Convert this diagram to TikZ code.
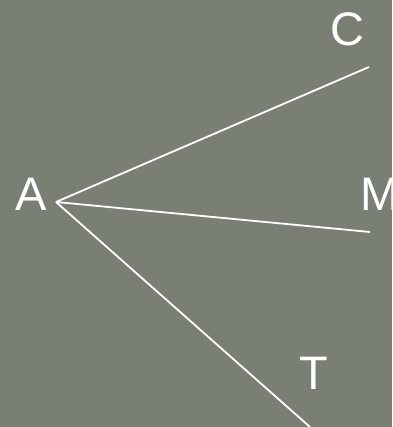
\documentclass[tikz,border=0pt]{standalone}
\usepackage{fontspec}
\setmainfont{Liberation Sans}
\usetikzlibrary{positioning}
\definecolor{cBg}{HTML}{7A7F74}
\definecolor{cInk}{HTML}{FFFFFF}

\begin{document}
\begin{tikzpicture}[x=1pt,y=1pt,
  letter/.style={text=cInk, inner sep=0pt, font=\fontsize{47}{50}\selectfont},
  ray/.style={draw=cInk, line width=1.8pt},
]

% background
\fill[cBg] (0,0) rectangle (392,427);
\useasboundingbox (0,0) rectangle (392,427);

% vertex and ray ends
\coordinate (a) at (56,225);
\coordinate (c) at (369,360);
\coordinate (m) at (370,195);
\coordinate (t) at (310,0);

% labels
\node[letter] (la) at (31,233) {A};
\node[letter] (lc) at (347,398) {C};
\node[letter, anchor=west] (lm) at (360,233) {M};
\node[letter] (lt) at (314,54) {T};

% rays
\draw[ray] (a) -- (c);
\draw[ray] (a) -- (m);
\draw[ray] (a) -- (t);

\end{tikzpicture}
\end{document}
